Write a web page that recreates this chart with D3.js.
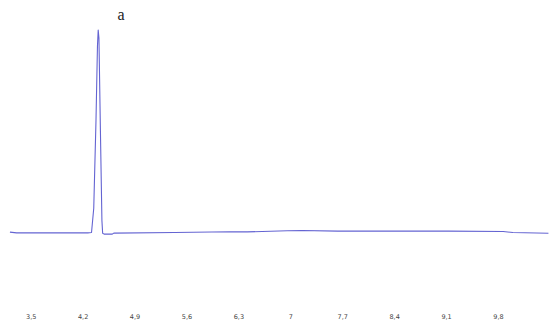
<!DOCTYPE html>
<html>
<head>
<meta charset="utf-8">
<script src="https://cdn.jsdelivr.net/npm/d3@7"></script>
<style>
  body { margin: 0; background: #fff; }
  svg { display: block; }
</style>
</head>
<body>
<svg id="chart"></svg>
<script>
// wavelength / position values
var xValues = [3.22, 3.31, 4.27, 4.32, 4.35, 4.38, 4.40, 4.41, 4.42, 4.44, 4.46, 4.47, 4.49, 4.60, 4.62, 5.44, 6.19, 6.42, 6.96, 7.16, 7.64, 9.13, 9.87, 10.0, 10.48];
var yValues = [0.2, -0.2, -0.2, 0, 12, 55, 92, 100, 96, 50, 6, -0.4, -0.8, -0.8, -0.3, 0, 0.4, 0.3, 0.9, 1.0, 0.7, 0.7, 0.5, 0, -0.4];
var tickValues = [3.5, 4.2, 4.9, 5.6, 6.3, 7, 7.7, 8.4, 9.1, 9.8];
var tickLabels = ["3,5", "4,2", "4,9", "5,6", "6,3", "7", "7,7", "8,4", "9,1", "9,8"];

var width = 549, height = 322;
var svg = d3.select("svg#chart")
    .attr("width", width)
    .attr("height", height);

var x = d3.scaleLinear()
    .domain([3.5, 9.8])
    .range([30.7, 498]);

var y = d3.scaleLinear()
    .domain([0, 100])
    .range([232.5, 30]);

var points = xValues.map(function(v, i) { return {X: v, Y: yValues[i]}; });

var line = d3.line()
    .x(function(d) { return x(d.X); })
    .y(function(d) { return y(d.Y); });

svg.append("path")
    .datum(points)
    .attr("fill", "none")
    .attr("stroke", "#6464d2")
    .attr("stroke-width", 1.1)
    .attr("stroke-linejoin", "round")
    .attr("d", line);

// x axis labels only, no axis line
var ax = svg.append("g")
    .attr("transform", "translate(0,311)")
    .call(d3.axisBottom(x)
      .tickValues(tickValues)
      .tickFormat(function(d, i) { return tickLabels[i]; })
      .tickSize(0));
ax.select(".domain").remove();
ax.selectAll("text")
    .attr("fill", "#444")
    .attr("font-family", "DejaVu Sans")
    .attr("font-size", 6.5);

svg.append("text")
    .attr("x", 121)
    .attr("y", 20)
    .attr("text-anchor", "middle")
    .attr("font-family", "Liberation Serif")
    .attr("font-size", 16)
    .attr("fill", "#222")
    .text("a");
</script>
</body>
</html>
